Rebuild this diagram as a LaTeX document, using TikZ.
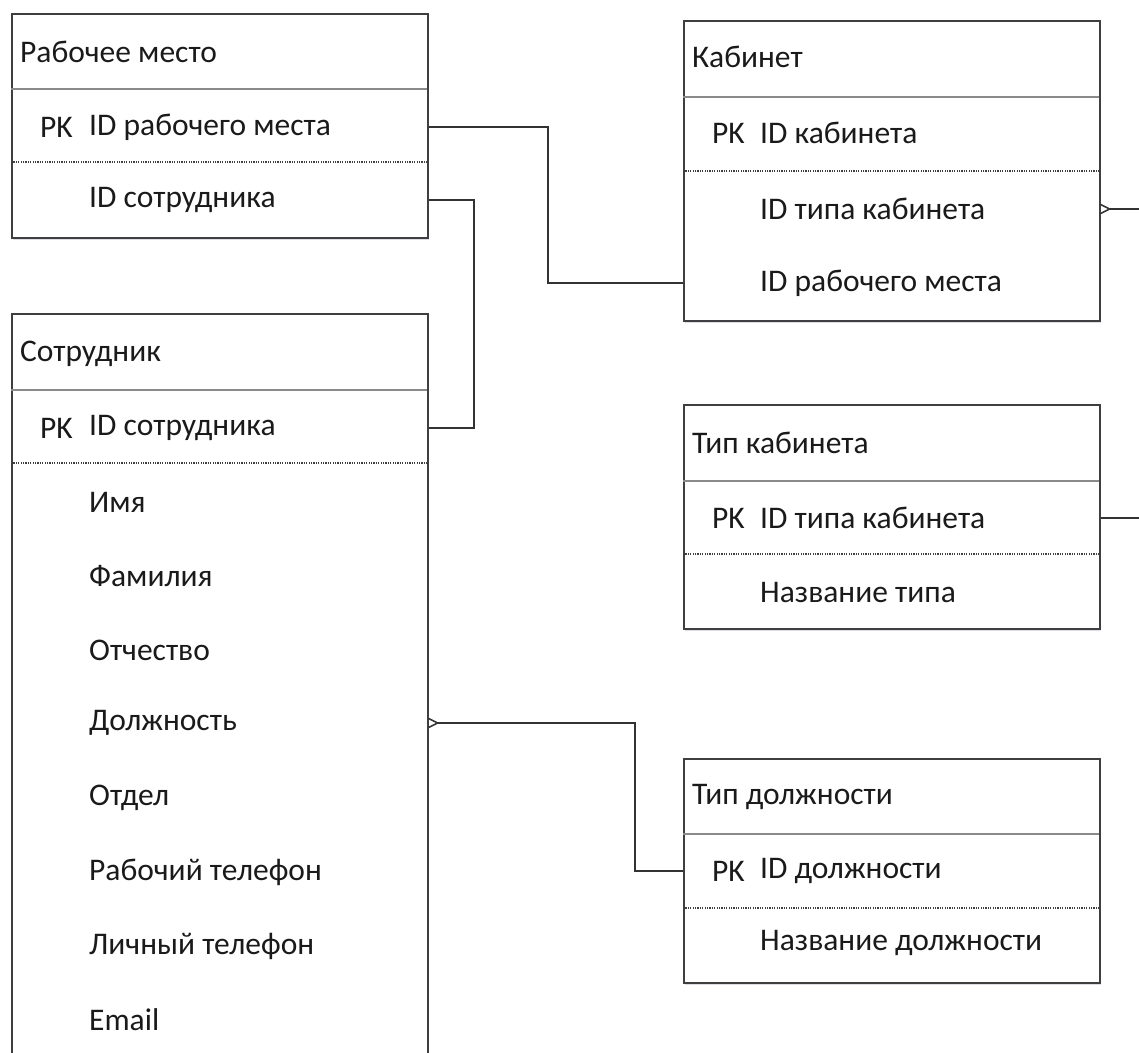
\documentclass[tikz,border=0pt]{standalone}
\usepackage{fontspec}
\setmainfont{Carlito}
\usetikzlibrary{shadows}
\definecolor{boxline}{HTML}{3F3F3F}
\definecolor{rowline}{HTML}{8A8A8A}
\definecolor{linkcol}{HTML}{333333}
\definecolor{shadowcol}{HTML}{B8C0CC}
\definecolor{txt}{HTML}{1A1A1A}
\begin{document}
\begin{tikzpicture}[x=1pt,y=-1pt,
  entity/.style={draw=boxline, line width=1.6pt, fill=white, rectangle,
    anchor=north west, inner sep=0pt, minimum width=416pt,
    drop shadow={shadow xshift=1.5pt, shadow yshift=-2.5pt, fill=shadowcol, opacity=0.5}},
  lbl/.style={anchor=west, inner sep=0pt, text=txt, font=\fontsize{31.5}{36}\selectfont},
  headsep/.style={draw=rowline, line width=1.2pt},
  keysep/.style={draw=boxline, line width=1.3pt, dash pattern=on 1.2pt off 1.2pt},
  link/.style={draw=linkcol, line width=1.5pt},
  many/.style={draw=linkcol, line width=1.5pt}]
\clip (0,0) rectangle (1139,1052);
\fill[white] (0,0) rectangle (1139,1052);

% --- Рабочее место ---
\node[entity, minimum height=224pt] (rm) at (11,13) {};
\draw[headsep] (11,89) -- (427,89);
\draw[keysep] (11,162) -- (427,162);
\node[lbl] (rmT) at (20,52) {Рабочее место};
\node[lbl] (rmPKk) at (40,127) {PK};
\node[lbl] (rmPK) at (89,127) {ID рабочего места};
\node[lbl] (rmF1) at (89,200) {ID сотрудника};

% --- Сотрудник ---
\node[entity, minimum height=800pt] (st) at (11,313) {};
\draw[headsep] (11,390) -- (427,390);
\draw[keysep] (11,463) -- (427,463);
\node[lbl] (stT) at (20,354) {Сотрудник};
\node[lbl] (stPKk) at (40,428) {PK};
\node[lbl] (stPK) at (89,428) {ID сотрудника};
\node[lbl] (stF1) at (89,502) {Имя};
\node[lbl] (stF2) at (89,576) {Фамилия};
\node[lbl] (stF3) at (89,650) {Отчество};
\node[lbl] (stF4) at (89,723) {Должность};
\node[lbl] (stF5) at (89,798) {Отдел};
\node[lbl] (stF6) at (89,872) {Рабочий телефон};
\node[lbl] (stF7) at (89,946) {Личный телефон};
\node[lbl] (stF8) at (89,1020) {Email};

% --- Кабинет ---
\node[entity, minimum height=300pt] (kb) at (683,20) {};
\draw[headsep] (683,97) -- (1099,97);
\draw[keysep] (683,171) -- (1099,171);
\node[lbl] (kbT) at (692,57) {Кабинет};
\node[lbl] (kbPKk) at (712,133) {PK};
\node[lbl] (kbPK) at (760,133) {ID кабинета};
\node[lbl] (kbF1) at (760,209) {ID типа кабинета};
\node[lbl] (kbF2) at (760,283) {ID рабочего места};

% --- Тип кабинета ---
\node[entity, minimum height=224pt] (tk) at (683,404) {};
\draw[headsep] (683,481) -- (1099,481);
\draw[keysep] (683,554) -- (1099,554);
\node[lbl] (tkT) at (692,443) {Тип кабинета};
\node[lbl] (tkPKk) at (712,518) {PK};
\node[lbl] (tkPK) at (760,518) {ID типа кабинета};
\node[lbl] (tkF1) at (760,592) {Название типа};

% --- Тип должности ---
\node[entity, minimum height=224pt] (td) at (683,758) {};
\draw[headsep] (683,834) -- (1099,834);
\draw[keysep] (683,908) -- (1099,908);
\node[lbl] (tdT) at (692,797) {Тип должности};
\node[lbl] (tdPKk) at (712,871) {PK};
\node[lbl] (tdPK) at (760,871) {ID должности};
\node[lbl] (tdF1) at (760,943) {Название должности};

% --- free ends beyond the right margin ---
\coordinate (outA) at (1145,209);
\coordinate (outB) at (1145,518);

% --- relationships ---
\draw[link] (rm.east |- rmPK) -- (548,127) |- (kb.west |- kbF2);
\draw[link] (rm.east |- rmF1) -- (474,200) |- (st.east |- stPK);
\draw[link] ([xshift=9pt]st.east |- stF4) -- (635,723) |- (td.west |- tdPK);
\draw[many] ([yshift=-4.5pt]st.east |- stF4) -- ([xshift=9pt]st.east |- stF4) -- ([yshift=4.5pt]st.east |- stF4);
\draw[link] ([xshift=9pt]kb.east |- kbF1) -- (outA);
\draw[many] ([yshift=-4.5pt]kb.east |- kbF1) -- ([xshift=9pt]kb.east |- kbF1) -- ([yshift=4.5pt]kb.east |- kbF1);
\draw[link] (tk.east |- tkPK) -- (outB);
\end{tikzpicture}
\end{document}
